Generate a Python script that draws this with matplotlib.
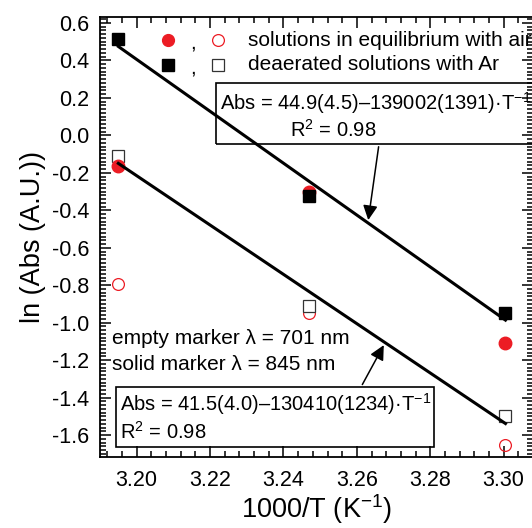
import numpy as np
import matplotlib
matplotlib.use('Agg')
import matplotlib.pyplot as plt
from matplotlib.patches import Rectangle
from matplotlib.ticker import MultipleLocator

plt.rcParams['font.family'] = ['Liberation Sans', 'DejaVu Sans']
plt.rcParams['mathtext.fontset'] = 'custom'
plt.rcParams['mathtext.rm'] = 'Liberation Sans'
plt.rcParams['mathtext.it'] = 'Liberation Sans:italic'
plt.rcParams['axes.unicode_minus'] = False

# data: x = 1000/T, y = ln(Abs)
x_T = [3.195, 3.247, 3.3005]
air_845 = [-0.163, -0.300, -1.107]   # solid circles
air_701 = [-0.795, -0.950, -1.653]   # empty circles
ar_845 = [0.515, -0.325, -0.947]     # solid squares
ar_701 = [-0.110, -0.912, -1.500]    # empty squares

legend_labels = ['solutions in equilibrium with air', 'deaerated solutions with Ar']
eq_upper = ['Abs = 44.9(4.5)\u2013139002(1391)\u00b7T$^{\\mathrm{-1}}$', 'R$^{\\mathrm{2}}$ = 0.98']
eq_lower = ['Abs = 41.5(4.0)\u2013130410(1234)\u00b7T$^{\\mathrm{-1}}$', 'R$^{\\mathrm{2}}$ = 0.98']
note_lines = ['empty marker \u03bb = 701 nm', 'solid marker \u03bb = 845 nm']

red = '#ec1c24'
W, H = 532, 528

fig = plt.figure(figsize=(W / 100, H / 100), dpi=100)
ax = fig.add_axes([100 / W, 1 - 457 / H, 433 / W, 440 / H])

def fpx(x, y):
    # pixel position -> figure fraction
    return (x / W, 1 - y / H)

x = np.array(x_T)

# fit lines through the square series
fit_hi = np.polyfit(x, ar_845, 1)
fit_lo = np.polyfit(x, ar_701, 1)
ax.plot(x[[0, -1]], np.polyval(fit_hi, x[[0, -1]]), color='black', lw=2.2, zorder=5)
ax.plot(x[[0, -1]], np.polyval(fit_lo, x[[0, -1]]), color='black', lw=2.2, zorder=5)

ax.plot(x, air_701, 'o', ms=8.5, mfc='none', mec=red, mew=0.9, zorder=3)
ax.plot(x, ar_701, 's', ms=8.5, mfc='white', mec='#333333', mew=0.9, zorder=3)
ax.plot(x, air_845, 'o', ms=9, mfc=red, mec=red, zorder=4)
ax.plot(x, ar_845, 's', ms=8.5, mfc='black', mec='black', zorder=4)

ax.set_xlim(3.19, 3.308)
ax.set_ylim(-1.717, 0.632)
ax.xaxis.set_major_locator(MultipleLocator(0.02))
ax.xaxis.set_minor_locator(MultipleLocator(0.004))
ax.yaxis.set_major_locator(MultipleLocator(0.2))
ax.yaxis.set_minor_locator(MultipleLocator(0.02))
ax.xaxis.set_major_formatter(matplotlib.ticker.FormatStrFormatter('%.2f'))
ax.yaxis.set_major_formatter(matplotlib.ticker.FormatStrFormatter('%.1f'))
ax.tick_params(which='both', direction='in', top=True, right=True, width=1.1, labelsize=15.5)
ax.tick_params(which='major', length=8)
ax.tick_params(which='minor', length=4.5)
ax.tick_params(axis='x', pad=9)
ax.tick_params(axis='y', pad=8)
for s in ax.spines.values():
    s.set_linewidth(1.3)

ax.set_xlabel('1000/T (K$^{\\mathrm{-1}}$)', fontsize=19.5, labelpad=1)
ax.set_ylabel('ln (Abs (A.U.))', fontsize=19.5, labelpad=4)

# legend drawn by hand: filled , empty  text
for row, (lab, mk) in enumerate(zip(legend_labels, ['o', 's'])):
    yy = 40 + 25 * row
    fc = red if mk == 'o' else 'black'
    ec_open = red if mk == 'o' else '#333333'
    fig.add_artist(plt.Line2D([168 / W], [1 - yy / H], marker=mk, ms=8.5, mfc=fc, mec=fc, ls='none'))
    fig.text(*fpx(193, yy + 3), ',', fontsize=15, ha='center', va='center')
    fig.add_artist(plt.Line2D([218 / W], [1 - yy / H], marker=mk, ms=8.5, mfc='none', mec=ec_open, mew=0.9, ls='none'))
    fig.text(*fpx(248, yy), lab, fontsize=15, ha='left', va='center')

# upper equation box
fig.add_artist(Rectangle(fpx(216, 144), 330 / W, 61 / H, transform=fig.transFigure,
                         fill=False, ec='black', lw=1.2))
fig.text(*fpx(220, 103), eq_upper[0], fontsize=14.5, ha='left', va='center')
fig.text(*fpx(333, 130), eq_upper[1], fontsize=14.5, ha='center', va='center')

# lower equation box
fig.add_artist(Rectangle(fpx(116, 447), 318 / W, 60 / H, transform=fig.transFigure,
                         fill=False, ec='black', lw=1.2))
fig.text(*fpx(120, 404), eq_lower[0], fontsize=14.5, ha='left', va='center')
fig.text(*fpx(120, 432), eq_lower[1], fontsize=14.5, ha='left', va='center')

for i, t in enumerate(note_lines):
    fig.text(*fpx(112, 338 + 26 * i), t, fontsize=15, ha='left', va='center')

# arrows pointing at the fit lines
xa = 3.263
ax.annotate('', xy=(xa, np.polyval(fit_hi, xa)), xytext=fpx(379, 144), textcoords='figure fraction',
            arrowprops=dict(arrowstyle='-|>', color='black', lw=1.1, mutation_scale=22), zorder=6)
xb = 3.2677
ax.annotate('', xy=(xb, np.polyval(fit_lo, xb)), xytext=fpx(361, 387), textcoords='figure fraction',
            arrowprops=dict(arrowstyle='-|>', color='black', lw=1.1, mutation_scale=22), zorder=6)

fig.savefig('out.png', dpi=100)
